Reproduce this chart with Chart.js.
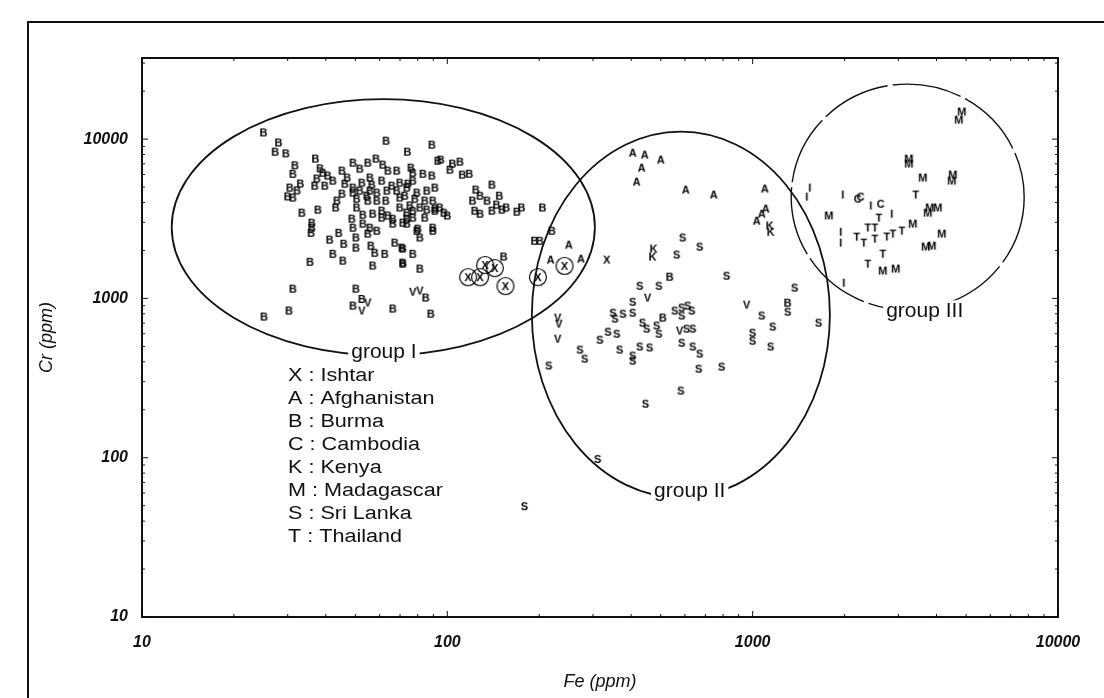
<!DOCTYPE html>
<html>
<head>
<meta charset="utf-8">
<script src="https://cdn.jsdelivr.net/npm/chart.js@4.4.0/dist/chart.umd.min.js"></script>
<style>
  html, body { margin: 0; background: #fff; }
  #wrap { width: 1104px; height: 698px; }
</style>
</head>
<body>
<div id="wrap"><canvas id="chart" width="1104" height="698"></canvas></div>
<script>
// axis ticks
const xTicks = [10, 100, 1000, 10000];
const yTicks = [10, 100, 1000, 10000];

// samples, [Fe ppm, Cr ppm]
const burma = [[25,11100],[28,9600],[27.3,8400],[29.6,8200],[63,9850],[89,9300],[74,8400],[37,7600],[31.7,6900],[31.2,6100],[33,5300],[30.5,5000],[30,4400],[31.2,4330],[32.2,4800],[38.3,6600],[39.1,6200],[37.4,5700],[36.8,5140],[39.7,5140],[40.6,5950],[42.2,5530],[45.2,6390],[49.1,7170],[51.7,6580],[54.9,7170],[58.4,7600],[61.5,6970],[63.9,6390],[68.3,6390],[76,6670],[77.1,6200],[83.2,6110],[89,5950],[93.1,7380],[46.2,5290],[49.1,5000],[52.5,5370],[55.8,5780],[56.6,5220],[61,5530],[65.8,5140],[69.9,5370],[74.3,5290],[77.1,5530],[49.1,4650],[51.7,4785],[55.8,4785],[58.8,4650],[63.4,4785],[68.3,4785],[73.7,5000],[79.5,4650],[85.7,4785],[91.1,5000],[45.2,4580],[43.5,4140],[43.1,3750],[50.5,4260],[54.9,4140],[58.8,4140],[62.9,4140],[69.9,4330],[78.3,4260],[84.4,4140],[89.7,4140],[33.4,3480],[37.7,3636],[50.5,3750],[52.9,3380],[57,3430],[61,3580],[63.9,3340],[69.9,3750],[73.7,3480],[77.1,3580],[81.3,3750],[85.7,3636],[91.1,3690],[61,3240],[66.3,3190],[73.7,3190],[77.1,3240],[36,3010],[36,2800],[35.8,2600],[48.7,3190],[49.1,2800],[52.9,2970],[55.8,2800],[58.8,2680],[54.9,2570],[66.3,2970],[73.7,2970],[80.1,2760],[89.7,2800],[41.2,2357],[44.1,2600],[45.8,2220],[50.2,2430],[50.2,2100],[56.2,2160],[57.9,1950],[62.4,1920],[67.3,2256],[71,2100],[77.1,1920],[42.2,1920],[45.5,1740],[35.5,1710],[57,1620],[71.5,1690],[81.3,1550],[95.2,7490],[104,7070],[110,7270],[102,6480],[112,6030],[118,6110],[140,5220],[148,4450],[124,4855],[128,4450],[121,4140],[135,4140],[145,3910],[123,3580],[128,3430],[140,3580],[151,3636],[156,3750],[169,3530],[175,3750],[205,3750],[94.5,3750],[97.5,3480],[91.1,3580],[84.4,3240],[100,3340],[79.5,2680],[89.7,2680],[81.3,2430],[71.5,2070],[71.5,1665],[220,2680],[193,2320],[201,2320],[85,1020],[88.3,808],[153,1845],[31.2,1160],[30.3,845],[25.1,775],[50.2,1160],[52.5,1000],[49.1,908],[66.3,870],[72.6,4450],[75.4,3860],[71.5,3010],[54.5,4450],[47,5780],[535,1380],[508,764],[1302,947]];
const ishtarCircled = [[117,1360],[128,1360],[133,1620],[143,1550],[155,1195],[198,1360],[242,1600]];
const ishtar = [[333,1765]];
const afghanistan = [[405,8280],[443,8050],[500,7490],[433,6670],[417,5450],[604,4855],[746,4520],[1096,4930],[1104,3690],[1071,3430],[1031,3100],[250,2190],[218,1765],[274,1790]];
const kenya = [[474,2070],[470,1845],[1137,2890],[1146,2640]];
const vMarks = [[77.1,1110],[81.3,1130],[54.9,950],[52.5,845],[230,764],[232,700],[230,563],[453,1020],[577,633],[956,921]];
const sriLanka = [[590,2430],[671,2130],[564,1900],[311,99],[179,50],[822,1400],[427,1210],[493,1210],[405,960],[349,820],[376,808],[405,820],[354,753],[436,710],[450,651],[485,681],[556,845],[586,883],[613,908],[586,787],[632,845],[316,555],[336,623],[359,605],[493,605],[608,651],[637,651],[586,531],[427,503],[460,496],[367,481],[272,481],[282,422],[405,441],[405,410],[637,503],[671,454],[215,382],[666,365],[792,376],[582,266],[446,220],[1071,787],[1164,671],[1000,614],[1000,547],[1146,503],[1374,1178],[1303,832],[1645,710]];
const madagascar = [[4838,15000],[4730,13350],[3245,7600],[3245,7070],[3605,5780],[4521,6030],[4487,5530],[3800,3745],[4037,3745],[3743,3480],[3344,2970],[4161,2570],[3859,2160],[3686,2130],[2667,1506],[2940,1550],[1775,3340]];
const thailand = [[3419,4520],[2588,3240],[2512,2805],[2381,2805],[2191,2460],[2311,2256],[2511,2390],[2748,2463],[2876,2570],[3078,2684],[2667,1924],[2381,1665]];
const cambodia = [[2627,3960],[2208,4260],[2259,4390]];
const iMarks = [[1538,5000],[1504,4390],[1973,4520],[2437,3860],[2854,3430],[1943,2640],[1943,2256],[1988,1265]];

// group ellipses: centre (Fe, Cr), half axes in decades, label anchor
const groupNames = ["group I", "group II", "group III"];
const groupFe = [61.7, 582, 3219];
const groupCr = [2800, 790, 4330];
const groupHalfX = [0.693, 0.488, 0.3815];
const groupHalfY = [0.804, 1.149, 0.709];
const groupLabelFe = [62, 622, 3660];
const groupLabelCr = [460, 62, 830];

const legendCodes = ["X", "A", "B", "C", "K", "M", "S", "T"];
const legendNames = ["Ishtar", "Afghanistan", "Burma", "Cambodia", "Kenya", "Madagascar", "Sri Lanka", "Thailand"];

const FONT = '"Liberation Sans", Arial, sans-serif';

function letterMarker(ch, circled) {
  const s = circled ? 20 : 13;
  const c = document.createElement("canvas");
  c.width = s;
  c.height = s;
  const ctx = c.getContext("2d");
  ctx.fillStyle = "#000";
  ctx.font = "bold 11px " + FONT;
  ctx.textAlign = "center";
  ctx.textBaseline = "middle";
  ctx.fillText(ch, s / 2, s / 2 + 1);
  if (circled) {
    ctx.strokeStyle = "#000";
    ctx.lineWidth = 1.2;
    ctx.beginPath();
    ctx.arc(s / 2, s / 2, 8.5, 0, Math.PI * 2);
    ctx.stroke();
  }
  return c;
}

function toXY(arr) {
  return arr.map((p) => ({ x: p[0], y: p[1] }));
}

function series(label, arr, ch, circled) {
  return {
    label: label,
    data: toXY(arr),
    pointStyle: letterMarker(ch, circled),
    pointRadius: 5,
    showLine: false,
  };
}

const decorations = {
  id: "decorations",
  beforeDatasetsDraw(chart) {
    const { ctx, scales } = chart;
    const x = scales.x;
    const y = scales.y;
    ctx.save();
    // group ellipses
    groupNames.forEach((name, i) => {
      const cx = x.getPixelForValue(groupFe[i]);
      const cy = y.getPixelForValue(groupCr[i]);
      const rx = x.getPixelForValue(groupFe[i] * Math.pow(10, groupHalfX[i])) - cx;
      const ry = cy - y.getPixelForValue(groupCr[i] * Math.pow(10, groupHalfY[i]));
      ctx.strokeStyle = "#111";
      ctx.lineWidth = i === 2 ? 1.4 : 1.8;
      ctx.setLineDash(i === 2 ? [70, 5] : []);
      ctx.beginPath();
      ctx.ellipse(cx, cy, rx, ry, 0, 0, Math.PI * 2);
      ctx.stroke();
    });
    ctx.setLineDash([]);
    ctx.font = "21px " + FONT;
    ctx.textAlign = "center";
    ctx.textBaseline = "middle";
    groupNames.forEach((name, i) => {
      const lx = x.getPixelForValue(groupLabelFe[i]);
      const ly = y.getPixelForValue(groupLabelCr[i]);
      const w = ctx.measureText(name).width;
      ctx.fillStyle = "#fff";
      ctx.fillRect(lx - w / 2 - 3, ly - 11, w + 6, 22);
      ctx.fillStyle = "#111";
      ctx.fillText(name, lx, ly);
    });
    // legend, the scanned lettering is a bit wide so stretch it
    ctx.font = "18px " + FONT;
    ctx.textAlign = "left";
    legendCodes.forEach((code, i) => {
      ctx.save();
      ctx.translate(288, 376 + i * 23);
      ctx.scale(1.2, 1);
      ctx.fillText(code + " : " + legendNames[i], 0, 0);
      ctx.restore();
    });
    ctx.restore();
  },
  afterDraw(chart) {
    const { ctx, chartArea: a, scales } = chart;
    ctx.save();
    ctx.strokeStyle = "#111";
    ctx.lineWidth = 2;
    ctx.strokeRect(a.left, a.top, a.right - a.left, a.bottom - a.top);
    // outer border of the figure
    ctx.beginPath();
    ctx.moveTo(28, 698);
    ctx.lineTo(28, 22);
    ctx.lineTo(1104, 22);
    ctx.stroke();
    // inward log ticks on all four sides
    ctx.lineWidth = 1;
    ctx.beginPath();
    for (let d = 10; d < 100000; d *= 10) {
      for (let k = 1; k < 10; k++) {
        const v = d * k;
        const len = k === 1 ? 6 : 3;
        if (v >= scales.x.min && v <= scales.x.max) {
          const px = scales.x.getPixelForValue(v);
          ctx.moveTo(px, a.bottom); ctx.lineTo(px, a.bottom - len);
          ctx.moveTo(px, a.top); ctx.lineTo(px, a.top + len);
        }
        if (v >= scales.y.min && v <= scales.y.max) {
          const py = scales.y.getPixelForValue(v);
          ctx.moveTo(a.left, py); ctx.lineTo(a.left + len, py);
          ctx.moveTo(a.right, py); ctx.lineTo(a.right - len, py);
        }
      }
    }
    ctx.stroke();
    ctx.restore();
  },
};

const tickFont = { family: FONT, size: 16, style: "italic", weight: "bold" };
const titleFont = { family: FONT, size: 18, style: "italic" };

new Chart(document.getElementById("chart"), {
  type: "scatter",
  data: {
    datasets: [
      series("Burma", burma, "B"),
      series("Ishtar", ishtarCircled, "X", true),
      series("Ishtar", ishtar, "X"),
      series("Afghanistan", afghanistan, "A"),
      series("Kenya", kenya, "K"),
      series("V", vMarks, "V"),
      series("Sri Lanka", sriLanka, "S"),
      series("Madagascar", madagascar, "M"),
      series("Thailand", thailand, "T"),
      series("Cambodia", cambodia, "C"),
      series("I", iMarks, "I"),
    ],
  },
  options: {
    responsive: false,
    animation: false,
    devicePixelRatio: 1,
    layout: { padding: { top: 58, right: 46, left: 0, bottom: 0 } },
    plugins: { legend: { display: false }, tooltip: { enabled: false } },
    scales: {
      x: {
        type: "logarithmic",
        position: "bottom",
        min: 10,
        max: 10000,
        afterBuildTicks: (axis) => { axis.ticks = xTicks.map((v) => ({ value: v })); },
        afterFit: (axis) => { axis.height = 81; },
        grid: { display: false, drawTicks: false },
        border: { display: false },
        ticks: { color: "#111", font: tickFont, padding: 16, maxRotation: 0, callback: (v) => String(v) },
        title: { display: true, text: "Fe (ppm)", color: "#111", font: titleFont, padding: { top: 0, bottom: 5 } },
      },
      y: {
        type: "logarithmic",
        position: "left",
        min: 10,
        max: 32300,
        afterBuildTicks: (axis) => { axis.ticks = yTicks.map((v) => ({ value: v })); },
        afterFit: (axis) => { axis.width = 142; },
        grid: { display: false, drawTicks: false },
        border: { display: false },
        ticks: { color: "#111", font: tickFont, padding: 14, callback: (v) => String(v) },
        title: { display: true, text: "Cr (ppm)", color: "#111", font: titleFont, padding: { top: 36, bottom: 0 } },
      },
    },
  },
  plugins: [decorations],
});
</script>
</body>
</html>
